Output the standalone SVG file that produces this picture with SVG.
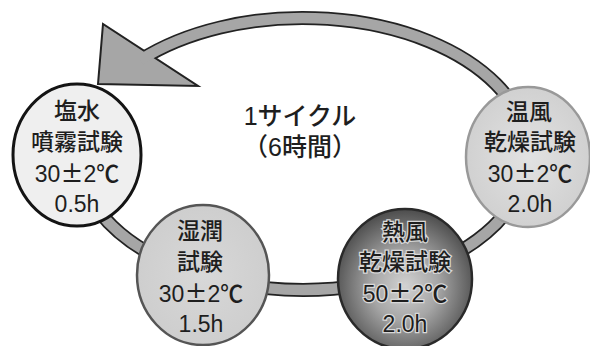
<svg xmlns="http://www.w3.org/2000/svg" width="590" height="346" viewBox="0 0 590 346">
<defs>
<radialGradient id="hotGrad" cx="0.5" cy="0.55" r="0.55">
<stop offset="0" stop-color="#d2d2d2"/>
<stop offset="0.45" stop-color="#a6a6a6"/>
<stop offset="1" stop-color="#4c4c4c"/>
</radialGradient>
<radialGradient id="warmGrad" cx="0.5" cy="0.5" r="0.55">
<stop offset="0" stop-color="#e2e2e2"/>
<stop offset="1" stop-color="#cfcfcf"/>
</radialGradient>
<radialGradient id="wetGrad" cx="0.5" cy="0.5" r="0.55">
<stop offset="0" stop-color="#d8d8d8"/>
<stop offset="1" stop-color="#cdcdcd"/>
</radialGradient>
</defs>
<style>
text { font-family: "Liberation Sans", "Noto Sans CJK JP", sans-serif; font-size: 23px; font-weight: 500; fill: #1e1e1e; text-anchor: middle; }
.hot text { stroke: #d8d8d8; stroke-width: 2.5px; paint-order: stroke; }
.title { font-size: 25px; }
.pm { font-family: "Noto Sans CJK JP", sans-serif; }
</style>
<g id="connectors">
<path d="M 140 60.2 A 225 136 0 1 1 78 154" fill="none" stroke="#222" stroke-width="14"/>
<polygon points="103,24 98,84 198,86" fill="#a6a6a6" stroke="#222" stroke-width="2" stroke-linejoin="miter"/>
<path d="M 140 60.2 A 225 136 0 1 1 78 154" fill="none" stroke="#a6a6a6" stroke-width="10.5"/>
</g>
<g id="center-label">
<text class="title" x="300" y="125">1サイクル</text>
<text class="title" x="300" y="156">（6時間）</text>
</g>
<g id="salt-spray">
<ellipse cx="77" cy="155" rx="64" ry="71" fill="#efefef" stroke="#141414" stroke-width="3"/>
<text x="77" y="119">塩水</text>
<text x="77" y="150">噴霧試験</text>
<text x="77" y="182">30<tspan class="pm">±</tspan>2℃</text>
<text x="77" y="212">0.5h</text>
</g>
<g id="humidity">
<ellipse cx="203" cy="275" rx="66" ry="70" fill="url(#wetGrad)" stroke="#555" stroke-width="2.5"/>
<text x="200" y="239">湿潤</text>
<text x="200" y="270">試験</text>
<text x="201" y="302">30<tspan class="pm">±</tspan>2℃</text>
<text x="201" y="332">1.5h</text>
</g>
<g id="hot-air" class="hot">
<ellipse cx="405" cy="279" rx="67" ry="70" fill="url(#hotGrad)" stroke="#2a2a2a" stroke-width="2.5"/>
<text x="405" y="240">熱風</text>
<text x="405" y="270">乾燥試験</text>
<text x="405" y="302">50<tspan class="pm">±</tspan>2℃</text>
<text x="405" y="332">2.0h</text>
</g>
<g id="warm-air">
<ellipse cx="528" cy="157" rx="62" ry="70" fill="url(#warmGrad)" stroke="#999" stroke-width="2.5"/>
<text x="529" y="120">温風</text>
<text x="530" y="150">乾燥試験</text>
<text x="530" y="182">30<tspan class="pm">±</tspan>2℃</text>
<text x="530" y="212">2.0h</text>
</g>
</svg>
